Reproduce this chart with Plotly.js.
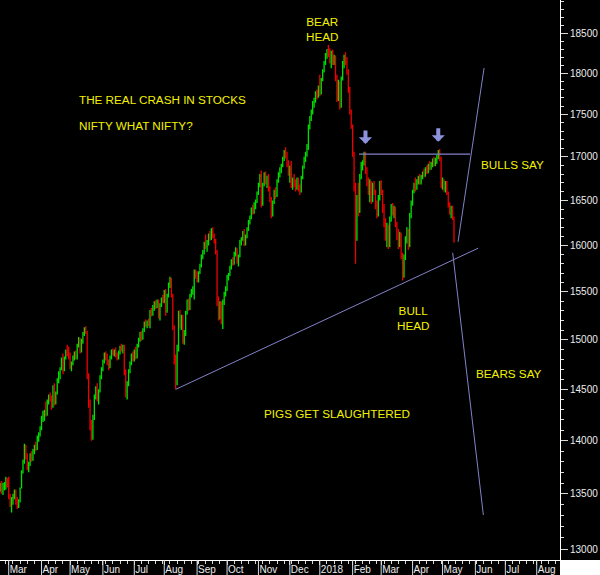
<!DOCTYPE html>
<html><head><meta charset="utf-8">
<script src="https://cdn.plot.ly/plotly-3.0.1.min.js"></script>
<style>html,body{margin:0;padding:0;background:#000;}#chart{width:600px;height:575px;}</style>
</head><body><div id="chart"></div>
<script>
// first trading day of the series (one bar per weekday)
const firstDate = '2017-02-21';

const openV = [
13560,13580,13520,13570,13590,13640,
13600,13460,13400,13440,13480,13520,13420,13390,13430,13560,13700,13800,13950,13850,13740,13780,13860,13820,13900,13940,13920,14030,14060,
14120,14220,14230,14330,14250,14380,14430,14400,14330,14520,14370,14460,14590,14660,14700,14800,14690,14820,14870,14850,
14830,14720,14760,14820,14850,14820,14940,15010,14880,14990,15060,15110,15080,14640,14360,14140,14050,14230,14420,14510,14420,14480,14620,
14700,14780,14850,14820,14760,14720,14820,14880,14860,14890,14840,14810,14870,14920,14900,14930,14680,14480,14550,14680,14760,14840,
14800,14880,14820,14940,15000,15060,15020,15100,15170,15150,15180,15140,15290,15270,15340,15380,15340,15400,15260,15360,15420,
15400,15500,15300,15460,15580,15630,15470,15130,14800,14560,14900,15250,15150,15230,15000,15060,15280,15400,15330,15460,15510,15540,15700,
15690,15620,15700,15780,15880,15930,16010,15990,16040,16100,16080,16170,16110,16040,15930,15400,15240,15380,15150,15390,15480,
15530,15660,15690,15760,15830,15800,15910,15960,15830,15880,16040,16070,16150,16010,16100,16180,16260,16300,16400,16370,16460,16490,
16580,16680,16800,16460,16680,16790,16710,16760,16630,16520,16340,16480,16600,16560,16720,16800,16850,16900,16980,17060,17000,16910,
16800,16860,16680,16720,16680,16640,16730,16630,16600,16760,16880,16980,17030,17120,17350,17450,17530,17620,17660,17750,17720,
17820,17760,17920,18030,18120,18230,18280,18230,18150,18250,18140,18200,17950,17700,17880,17600,17930,18120,18200,18140,18020,17800,17540,
17360,17050,16650,16100,16500,16380,16760,16900,16930,17040,16840,16700,16600,16700,16500,16660,16600,16440,16340,16530,
16680,16600,16400,16240,16090,16200,16000,16280,16430,16360,16400,16230,16100,16000,16120,15880,15700,15860,16060,16150,16000,16320,
16460,16600,16680,16640,16720,16760,16700,16770,16810,16790,16860,16830,16900,16870,16920,16950,16920,16970,16990,17060,16980,
16680,16720,16640,16700,16580,16460,16370,16420,16300
];
const highV = [
13600,13620,13600,13610,13660,13650,
13660,13500,13470,13500,13540,13540,13470,13450,13560,13720,13820,13970,13960,13880,13800,13880,13900,13920,13960,13990,14050,14080,14140,
14240,14290,14300,14380,14400,14450,14470,14440,14540,14560,14480,14610,14680,14720,14820,14860,14830,14900,14950,14930,
14870,14780,14840,14880,14890,14960,15030,15020,15010,15080,15130,15140,15090,14660,14400,14200,14250,14450,14530,14560,14500,14640,14720,
14800,14870,14880,14860,14800,14840,14900,14910,14900,14920,14870,14890,14940,14960,14950,14950,14700,14580,14700,14780,14860,14880,
14900,14930,14960,15020,15080,15090,15120,15190,15210,15200,15220,15310,15330,15360,15400,15410,15420,15420,15380,15440,15470,
15520,15530,15480,15600,15660,15650,15480,15150,14850,14950,15300,15310,15260,15260,15100,15300,15420,15430,15480,15530,15560,15740,15740,
15720,15720,15800,15900,15950,16040,16120,16060,16130,16160,16190,16200,16130,16070,15950,15450,15400,15400,15420,15500,15560,
15680,15700,15780,15850,15870,15930,15980,15970,15900,16060,16090,16160,16180,16120,16200,16280,16330,16420,16450,16480,16510,16600,
16700,16800,16840,16700,16820,16830,16780,16800,16660,16540,16500,16620,16650,16740,16820,16880,16920,17000,17080,17110,17060,16960,
16900,16950,16760,16800,16740,16760,16760,16680,16780,16900,17000,17060,17150,17380,17480,17560,17660,17700,17780,17800,17850,
17980,17940,18050,18150,18250,18300,18350,18310,18280,18290,18230,18220,17980,17920,17900,17960,18150,18230,18260,18200,18050,17830,17560,
17380,17060,16700,16560,16700,16800,16940,16960,17060,17060,16880,16760,16740,16720,16700,16720,16620,16500,16560,16720,
16730,16620,16460,16300,16250,16230,16320,16460,16470,16440,16430,16260,16180,16150,16140,15920,15900,16100,16200,16180,16360,16500,
16620,16700,16760,16740,16780,16800,16790,16830,16860,16880,16900,16920,16950,16940,16980,17000,16990,17020,17080,17090,17000,
16760,16740,16720,16720,16600,16480,16440,16440,16320
];
const lowV = [
13520,13500,13490,13530,13540,13560,
13450,13380,13330,13400,13450,13400,13360,13370,13420,13550,13690,13780,13820,13720,13700,13760,13800,13810,13870,13900,13910,13990,14040,
14100,14180,14190,14230,14240,14350,14380,14300,14320,14340,14350,14450,14560,14600,14690,14650,14680,14800,14830,14800,
14700,14680,14740,14790,14800,14800,14920,14860,14870,14960,15040,15060,14600,14320,14100,14000,14010,14200,14400,14380,14350,14470,14600,
14680,14760,14790,14740,14690,14710,14800,14840,14830,14820,14790,14800,14850,14880,14860,14640,14420,14400,14530,14660,14740,14780,
14780,14800,14810,14920,14980,14990,15000,15080,15130,15120,15140,15120,15240,15250,15300,15320,15330,15220,15200,15340,15380,
15380,15250,15280,15440,15540,15440,15100,14750,14500,14540,14880,15120,15100,14960,14950,15040,15260,15300,15310,15440,15470,15420,15640,
15600,15600,15690,15760,15850,15900,15960,15930,16000,16050,16060,16080,16020,15900,15350,15200,15210,15160,15110,15360,15450,
15510,15620,15670,15740,15780,15790,15880,15800,15770,15870,16000,16050,15990,16000,16080,16160,16230,16290,16340,16350,16400,16470,
16560,16650,16420,16440,16660,16680,16640,16600,16480,16300,16320,16460,16520,16540,16700,16760,16810,16880,16950,16980,16880,16780,
16700,16640,16620,16650,16600,16620,16600,16560,16590,16740,16860,16940,17000,17080,17320,17420,17500,17580,17640,17680,17700,
17720,17740,17900,18010,18100,18180,18200,18120,18060,18100,18100,17900,17650,17660,17560,17580,17910,18060,18100,17980,17760,17500,17330,
17000,16600,15800,16050,16320,16360,16740,16840,16900,16800,16660,16560,16480,16460,16480,16560,16400,16300,16320,16500,
16560,16360,16200,16050,15980,15960,15980,16260,16330,16300,16200,16060,15960,15980,15850,15620,15650,15840,16020,15950,15980,16300,
16440,16580,16600,16620,16680,16680,16680,16740,16760,16770,16800,16810,16840,16850,16880,16890,16890,16920,16970,16950,16640,
16620,16600,16590,16560,16420,16340,16300,16280,16030
];
const closeV = [
13580,13520,13570,13590,13640,13580,
13470,13400,13440,13480,13520,13420,13380,13430,13550,13700,13800,13950,13850,13740,13780,13860,13820,13900,13940,13920,14030,14060,14120,
14220,14260,14280,14250,14380,14430,14400,14330,14520,14370,14460,14590,14660,14700,14800,14690,14820,14870,14850,14830,
14720,14760,14820,14850,14820,14940,15010,14880,14990,15060,15110,15080,14650,14360,14140,14050,14230,14420,14510,14420,14480,14620,14700,
14780,14850,14820,14760,14720,14820,14880,14860,14890,14840,14810,14870,14920,14900,14930,14680,14480,14550,14680,14760,14840,14800,
14880,14820,14940,15000,15060,15020,15100,15170,15150,15180,15160,15290,15270,15340,15380,15340,15400,15260,15360,15420,15400,
15500,15300,15460,15580,15630,15470,15130,14800,14560,14900,15250,15150,15230,15000,15060,15280,15400,15330,15460,15510,15540,15700,15690,
15620,15700,15780,15880,15930,16010,15990,16040,16100,16080,16170,16110,16040,15930,15400,15240,15380,15190,15390,15480,15530,
15660,15690,15760,15830,15800,15910,15960,15830,15880,16040,16070,16150,16010,16100,16180,16260,16300,16400,16370,16460,16490,16580,
16680,16780,16460,16680,16790,16710,16760,16630,16520,16340,16480,16600,16560,16720,16800,16850,16900,16980,17060,17000,16910,16800,
16860,16680,16720,16680,16640,16730,16630,16600,16760,16880,16980,17030,17120,17350,17450,17530,17620,17660,17750,17720,17820,
17760,17920,18030,18120,18230,18280,18230,18150,18250,18140,18200,17950,17700,17880,17600,17930,18120,18200,18140,18020,17800,17540,17360,
17050,16650,16000,16500,16380,16760,16900,16930,17040,16840,16700,16600,16700,16500,16660,16600,16440,16340,16530,16680,
16600,16400,16240,16090,16200,16000,16280,16430,16360,16400,16230,16100,16000,16120,15880,15700,15860,16060,16150,16000,16320,16460,
16600,16680,16640,16720,16760,16700,16770,16810,16790,16860,16830,16900,16870,16920,16950,16920,16970,16990,17060,16980,16680,
16720,16640,16700,16580,16460,16370,16420,16300,16060
];

// axis ticks and labels
const monthTickDates = ['2017-03-01','2017-04-03','2017-05-01','2017-06-01','2017-07-03','2017-08-01','2017-09-01','2017-10-02','2017-11-01','2017-12-01','2018-01-01','2018-02-01','2018-03-01','2018-04-02','2018-05-01','2018-06-01','2018-07-02','2018-08-01'];
const monthTickLabels = ['Mar','Apr','May','Jun','Jul','Aug','Sep','Oct','Nov','Dec','2018','Feb','Mar','Apr','May','Jun','Jul','Aug'];
const yTickVals = [13000,13500,14000,14500,15000,15500,16000,16500,17000,17500,18000,18500];
const yTickText = ['13000','13500','14000','14500','15000','15500','16000','16500','17000','17500','18000','18500'];

// drawn trend lines (date, value)
const supportX = ['2017-08-11', '2018-06-05'];
const supportY = [14500, 15970];
const resistX = ['2018-02-07 12:00', '2018-05-28 07:12'];
const resistY = [17030, 17030];
const bullsX = ['2018-05-15 20:40', '2018-06-11 02:24'];
const bullsY = [16040, 18065];
const bearsX = ['2018-05-10 02:24', '2018-06-08 14:24'];
const bearsY = [15920, 13306];
const arrowX = ['2018-02-14', '2018-04-26'];
const arrowY = [17150, 17175];

// notes
const noteTexts = ['BEAR<br>HEAD','THE REAL CRASH IN STOCKS','NIFTY WHAT NIFTY?','BULLS SAY','BULL<br>HEAD','BEARS SAY','PIGS GET SLAUGHTERED'];

// ---- build ----
function weekdayDates(start, n) {
  const out = [];
  const d = new Date(start + 'T00:00:00Z');
  while (out.length < n) {
    const w = d.getUTCDay();
    if (w !== 0 && w !== 6) out.push(d.toISOString().slice(0, 10));
    d.setUTCDate(d.getUTCDate() + 1);
  }
  return out;
}
const dates = weekdayDates(firstDate, closeV.length);

const W = 560, H = 560;
const lineCol = '#8282c8';
const FONT = 'Liberation Sans, Arial, sans-serif';

const traces = [
  {type:'ohlc', x:dates, open:openV, high:highV, low:lowV, close:closeV,
   increasing:{line:{color:'#00e000', width:1.3}}, decreasing:{line:{color:'#ee0000', width:1.3}},
   tickwidth:0.5, hoverinfo:'skip'},
  {type:'scatter', mode:'lines', x:supportX, y:supportY, line:{color:lineCol, width:1}, hoverinfo:'skip'},
  {type:'scatter', mode:'lines', x:resistX, y:resistY, line:{color:lineCol, width:1.2}, hoverinfo:'skip'},
  {type:'scatter', mode:'lines', x:bullsX, y:bullsY, line:{color:lineCol, width:1}, hoverinfo:'skip'},
  {type:'scatter', mode:'lines', x:bearsX, y:bearsY, line:{color:lineCol, width:1}, hoverinfo:'skip'}
];

const notePos = [
  {x:322, y:28.5, xa:'center'},
  {x:77, y:99, xa:'left'},
  {x:77, y:126, xa:'left'},
  {x:479, y:164, xa:'left'},
  {x:413, y:318, xa:'center'},
  {x:474, y:373.5, xa:'left'},
  {x:262, y:413, xa:'left'}
];
const annotations = noteTexts.map((t, k) => ({
  text:t, xref:'paper', yref:'paper', x:notePos[k].x / W, y:1 - notePos[k].y / H,
  xanchor:notePos[k].xa, yanchor:'middle', showarrow:false, align:'center',
  font:{family:FONT, size:11.7, color:'#f2f200'}
}));
arrowX.forEach((x, k) => annotations.push({
  x:x, y:Math.log10(arrowY[k]), xref:'x', yref:'y', text:'', showarrow:true,
  ax:0, ay:-15, arrowcolor:'#8c92dc', arrowwidth:4, arrowhead:1, arrowsize:0.55
}));

const shapes = monthTickDates.map(d => ({
  type:'line', xref:'x', yref:'paper', x0:d, x1:d, y0:0, y1:-15 / H,
  line:{color:'#d8d8d8', width:1}
}));
shapes.push({type:'rect', xref:'paper', yref:'paper', x0:1, x1:1.2, y0:-0.05, y1:0,
  fillcolor:'#ffffff', line:{width:0}});

const yMinor = [];
for (let v = 12900; v <= 18900; v += 100) if (v % 500 !== 0) yMinor.push(v);

const layout = {
  width:600, height:575,
  margin:{l:0, r:40, t:0, b:15, pad:0},
  paper_bgcolor:'#000', plot_bgcolor:'#000',
  showlegend:false, hovermode:false,
  xaxis:{
    type:'date', range:['2017-02-20 21:36', '2018-08-23 07:12'],
    rangebreaks:[{bounds:['sat','mon']}],
    rangeslider:{visible:false},
    showgrid:false, zeroline:false, showline:true, linecolor:'#ffffff', linewidth:1,
    ticks:'outside', ticklen:4, tickcolor:'#d8d8d8', tickwidth:1,
    tickmode:'array', tickvals:monthTickDates, ticktext:monthTickLabels,
    ticklabelposition:'outside right',
    tickfont:{family:FONT, size:10, color:'#ececec'},
    minor:{ticks:'outside', ticklen:3, tickcolor:'#d8d8d8', dtick:7*86400000, tick0:'2017-02-20'},
    automargin:false, fixedrange:true
  },
  yaxis:{
    type:'log', side:'right',
    range:[Math.log10(12903), Math.log10(18924)],
    showgrid:false, zeroline:false, showline:true, linecolor:'#ffffff', linewidth:1,
    ticks:'outside', ticklen:7, tickcolor:'#d8d8d8', tickwidth:1,
    tickmode:'array', tickvals:yTickVals, ticktext:yTickText,
    tickfont:{family:FONT, size:10, color:'#ececec'},
    minor:{ticks:'outside', ticklen:3, tickcolor:'#d8d8d8', tickmode:'array', tickvals:yMinor},
    automargin:false, fixedrange:true
  },
  annotations:annotations,
  shapes:shapes
};

Plotly.newPlot('chart', traces, layout, {staticPlot:true, displayModeBar:false});
</script>
</body></html>
